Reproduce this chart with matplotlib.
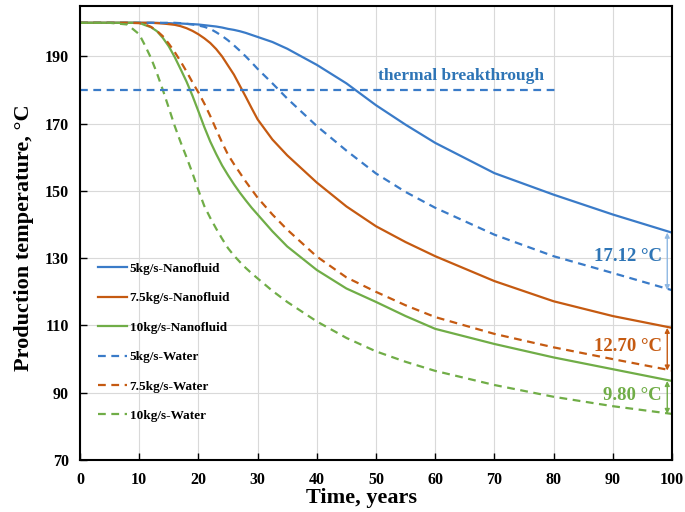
import numpy as np
import matplotlib.pyplot as plt

# time axis (years)
t = [0, 5, 8, 10, 11, 12, 13, 14, 15, 16, 17, 18, 19, 20, 21, 22, 23, 24, 25,
     26, 27, 28, 29, 30, 32.5, 35, 40, 45, 50, 55, 60, 70, 80, 90, 100]

# production temperature (degC)
nano_5 = [200, 200, 200, 200, 200, 200, 200, 199.9, 199.9, 199.8, 199.8, 199.7, 199.6, 199.5, 199.3, 199.1,
          198.9, 198.6, 198.2, 197.9, 197.5, 197, 196.4, 195.8, 194.3, 192.3, 187.5, 182, 175.5, 169.7,
          164.3, 155.3, 148.9, 143, 137.6]
water_5 = [200, 200, 200, 200, 200, 200, 200, 200, 200, 200, 199.9, 199.7, 199.5, 199.2, 198.8, 198.2,
           197.2, 196.1, 194.8, 193.3, 191.7, 190, 188.2, 186.3, 182, 177.5, 169.3, 162, 155.2, 149.7,
           145, 137, 130.6, 125.6, 120.5]
nano_75 = [200, 200, 200, 200, 200, 200, 199.9, 199.8, 199.6, 199.4, 199, 198.4, 197.6, 196.6, 195.4, 194,
           192.2, 190, 187.3, 184.6, 181.3, 178, 174.6, 171.3, 165.3, 160.6, 152.5, 145.4, 139.5, 134.8,
           130.6, 123.2, 117.2, 112.8, 109.3]
water_75 = [200, 200, 200, 199.9, 199.5, 198.8, 197.6, 196, 193.8, 191.3, 188.5, 185.5, 182.3, 179.3, 176,
            172.3, 168.3, 164.4, 160.8, 158, 155.4, 152.8, 150.4, 148, 143, 138.5, 130.5, 124.3, 120, 116,
            112.5, 107.5, 103.5, 100, 96.6]
nano_10 = [200, 200, 200, 200, 199.3, 198.7, 197.5, 195.5, 193, 189.8, 186.2, 182.5, 178.3, 173.7, 169,
           164.7, 161, 157.6, 154.7, 152, 149.5, 147.2, 145, 143, 138, 133.5, 126.5, 121, 117, 112.8,
           109, 104.5, 100.5, 97, 93.5]
water_10 = [200, 200, 199.5, 196.6, 193.2, 189.5, 185, 180, 174.7, 169.3, 164.5, 160, 155.3, 150.2, 145.5,
            142, 138.8, 135.8, 133, 130.8, 128.9, 127.1, 125.5, 124, 120.3, 117, 111.2, 106.3, 102.3, 99.2,
            96.5, 92.3, 88.8, 86, 83.7]

labels = ['5kg/s-Nanofluid', '7.5kg/s-Nanofluid', '10kg/s-Nanofluid',
          '5kg/s-Water', '7.5kg/s-Water', '10kg/s-Water']

blue = '#3A7BC8'
orange = '#C55A11'
green = '#70AD47'

plt.rcParams['font.family'] = 'Liberation Serif'
plt.rcParams['font.weight'] = 'bold'

fig = plt.figure(figsize=(6.85, 5.12), dpi=100)
ax = fig.add_axes([80 / 685, 52 / 512, 592 / 685, 454 / 512])

lw = 1.6
dash = (3.5, 2.5)
ax.plot(t, nano_5, color=blue, lw=lw, label=labels[0])
ax.plot(t, nano_75, color=orange, lw=lw, label=labels[1])
ax.plot(t, nano_10, color=green, lw=lw, label=labels[2])
ax.plot(t, water_5, color=blue, lw=lw, dashes=dash, label=labels[3])
ax.plot(t, water_75, color=orange, lw=lw, dashes=dash, label=labels[4])
ax.plot(t, water_10, color=green, lw=lw, dashes=dash, label=labels[5])

# thermal breakthrough line
ax.plot([0, 80.5], [180, 180], color=blue, lw=lw, dashes=dash)
ax.text(64.4, 184.3, 'thermal breakthrough', color='#2E75B6', fontsize=12.5,
        fontweight='bold', ha='center', va='center')

# differences at year 100
diffs = [(nano_5[-1], water_5[-1], '17.12 °C', '#8FB8E3', '#2E75B6', 130.5),
         (nano_75[-1], water_75[-1], '12.70 °C', orange, orange, 103.7),
         (nano_10[-1], water_10[-1], '9.80 °C', green, green, 89.3)]
for top, bot, txt, acol, tcol, ty in diffs:
    ax.annotate('', xy=(99.2, bot), xytext=(99.2, top),
                arrowprops=dict(arrowstyle='<|-|>', color=acol, lw=1.0,
                                mutation_scale=7, shrinkA=0, shrinkB=0))
    ax.text(98.3, ty, txt, color=tcol, fontsize=13.5, fontweight='bold',
            ha='right', va='center')

ax.set_xlim(0, 100)
ax.set_ylim(70, 205)
ax.set_xticks(np.arange(0, 101, 10))
ax.set_yticks(np.arange(70, 191, 20))
ax.tick_params(direction='in', length=5, width=1, labelsize=11.5)
ax.tick_params(axis='x', pad=9)
ax.tick_params(axis='y', pad=8)
for lab in ax.get_xticklabels() + ax.get_yticklabels():
    lab.set_fontweight('bold')
ax.grid(True, color='#D9D9D9', lw=0.8)
ax.set_axisbelow(True)
for s in ax.spines.values():
    s.set_linewidth(1.5)
    s.set_color('black')

ax.set_xlabel('Time, years', fontsize=16, fontweight='bold')
ax.set_ylabel('Production temperature, °C', fontsize=16, fontweight='bold')
ax.xaxis.set_label_coords(0.476, -0.062)
ax.yaxis.set_label_coords(-0.078, 0.489)

ax.legend(loc='center left', bbox_to_anchor=(0.0304, 0.259), frameon=False,
          handlelength=2.2, handletextpad=0.2, labelspacing=1.3,
          borderpad=0, borderaxespad=0,
          prop={'weight': 'bold', 'size': 9.5})

fig.savefig('out.png', dpi=100)
